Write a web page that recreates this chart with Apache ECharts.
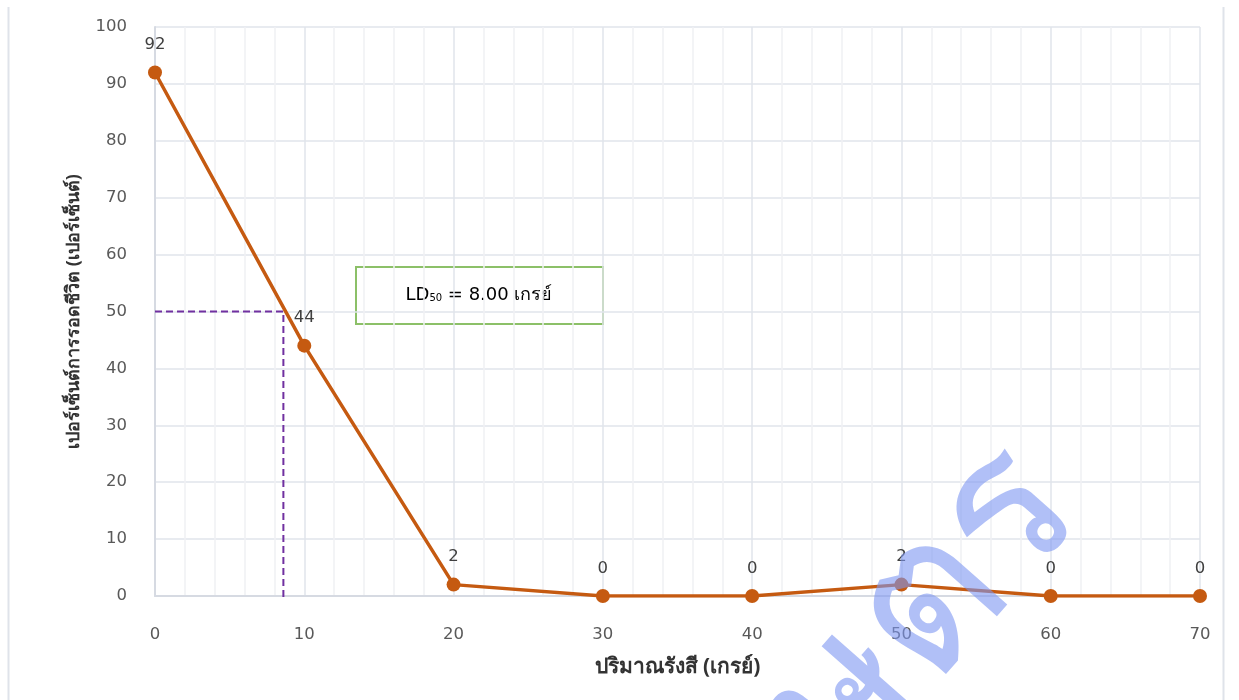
<!DOCTYPE html>
<html>
<head>
<meta charset="utf-8">
<script src="https://cdn.jsdelivr.net/npm/echarts@6/dist/echarts.min.js"></script>
<style>
  html, body { margin: 0; padding: 0; background: #ffffff; }
  #chart { width: 1239px; height: 700px; }
</style>
</head>
<body>
<div id="chart"></div>
<script>
// Dose (Gy) vs. survival percentage
const doses = [0, 10, 20, 30, 40, 50, 60, 70];
const survival = [92, 44, 2, 0, 0, 2, 0, 0];

// LD50 guide: where the curve crosses 50 %
const ld50Dose = 8.6;
const ld50Level = 50;
const ld50Text = '8.00';

const xTicks = { min: 0, max: 70, step: 10 };
const yTicks = { min: 0, max: 100, step: 10 };

const xName = 'ปริมาณรังสี (เกรย์)';
const yName = 'เปอร์เซ็นต์การรอดชีวิต (เปอร์เซ็นต์)';

const chart = echarts.init(document.getElementById('chart'), null, { renderer: 'canvas' });

const tickFont = { color: '#595959', fontSize: 16.5, fontFamily: 'DejaVu Sans' };

chart.setOption({
  animation: false,
  backgroundColor: '#ffffff',
  grid: { left: 155, right: 39, top: 27, bottom: 104, containLabel: false },
  xAxis: {
    type: 'value',
    min: xTicks.min, max: xTicks.max, interval: xTicks.step,
    name: xName,
    nameLocation: 'middle',
    nameGap: 61,
    nameTextStyle: { color: '#333333', fontSize: 21, fontWeight: 'bold', fontFamily: 'Noto Sans' },
    axisLine: { show: true, lineStyle: { color: '#d6dae2', width: 2 } },
    axisTick: { show: false },
    axisLabel: Object.assign({ margin: 30 }, tickFont),
    splitLine: { show: true, lineStyle: { color: '#e1e4eb', width: 1.5 } },
    minorTick: { show: false, splitNumber: 5 },
    minorSplitLine: { show: true, lineStyle: { color: '#eff1f4', width: 1.5 } }
  },
  yAxis: {
    type: 'value',
    min: yTicks.min, max: yTicks.max, interval: yTicks.step,
    name: yName,
    nameLocation: 'middle',
    nameGap: 72,
    nameRotate: 90,
    nameTextStyle: { color: '#333333', fontSize: 18, fontWeight: 'bold', fontFamily: 'Noto Sans' },
    axisLine: { show: true, lineStyle: { color: '#d6dae2', width: 2 } },
    axisTick: { show: false },
    axisLabel: Object.assign({ margin: 28 }, tickFont),
    splitLine: { show: true, lineStyle: { color: '#e1e4eb', width: 1.5 } }
  },
  series: [
    {
      name: 'LD50',
      type: 'line',
      data: [[xTicks.min, ld50Level], [ld50Dose, ld50Level], [ld50Dose, -0.8]],
      symbol: 'none',
      lineStyle: { color: '#7030a0', width: 2, type: [7, 4] },
      z: 3,
      silent: true
    },
    {
      name: 'survival',
      type: 'line',
      data: doses.map((d, i) => [d, survival[i]]),
      symbol: 'circle',
      symbolSize: 14,
      itemStyle: { color: '#c55a11' },
      lineStyle: { color: '#c55a11', width: 3.5 },
      label: {
        show: true,
        position: 'top',
        distance: 12,
        color: '#404040',
        fontSize: 16.5,
        fontFamily: 'DejaVu Sans',
        formatter: p => String(p.value[1])
      },
      z: 4
    }
  ],
  graphic: [
    // side frame lines
    { type: 'line', shape: { x1: 8.5, y1: 7, x2: 8.5, y2: 700 }, style: { stroke: '#dfe3ea', lineWidth: 2 }, z: 0 },
    { type: 'line', shape: { x1: 1223.5, y1: 7, x2: 1223.5, y2: 700 }, style: { stroke: '#dfe3ea', lineWidth: 2 }, z: 0 },
    // LD50 annotation box
    {
      type: 'group',
      left: 355, top: 266,
      z: 10,
      children: [
        { type: 'rect', shape: { x: 0, y: 0, width: 247, height: 57 }, style: { fill: '#ffffff', stroke: '#8cc068', lineWidth: 2 } },
        {
          type: 'text',
          x: 123, y: 28,
          style: {
            text: '{a|LD}{s|50}{a| = ' + ld50Text + ' เกรย์}',
            align: 'center', verticalAlign: 'middle',
            rich: {
              a: { fontSize: 18, color: '#404040', fontFamily: 'DejaVu Sans' },
              s: { fontSize: 10, color: '#404040', fontFamily: 'DejaVu Sans', padding: [6, 0, 0, 0] }
            }
          }
        }
      ]
    },
    // watermark
    {
      type: 'text',
      x: 860, y: 685,
      rotation: Math.PI * 0.27,
      z: 20,
      silent: true,
      style: {
        text: 'เกษตร',
        fontSize: 200,
        fontFamily: 'Noto Sans',
        fill: 'rgba(125,150,242,0.6)',
        align: 'center', verticalAlign: 'middle'
      }
    }
  ]
});
</script>
</body>
</html>
